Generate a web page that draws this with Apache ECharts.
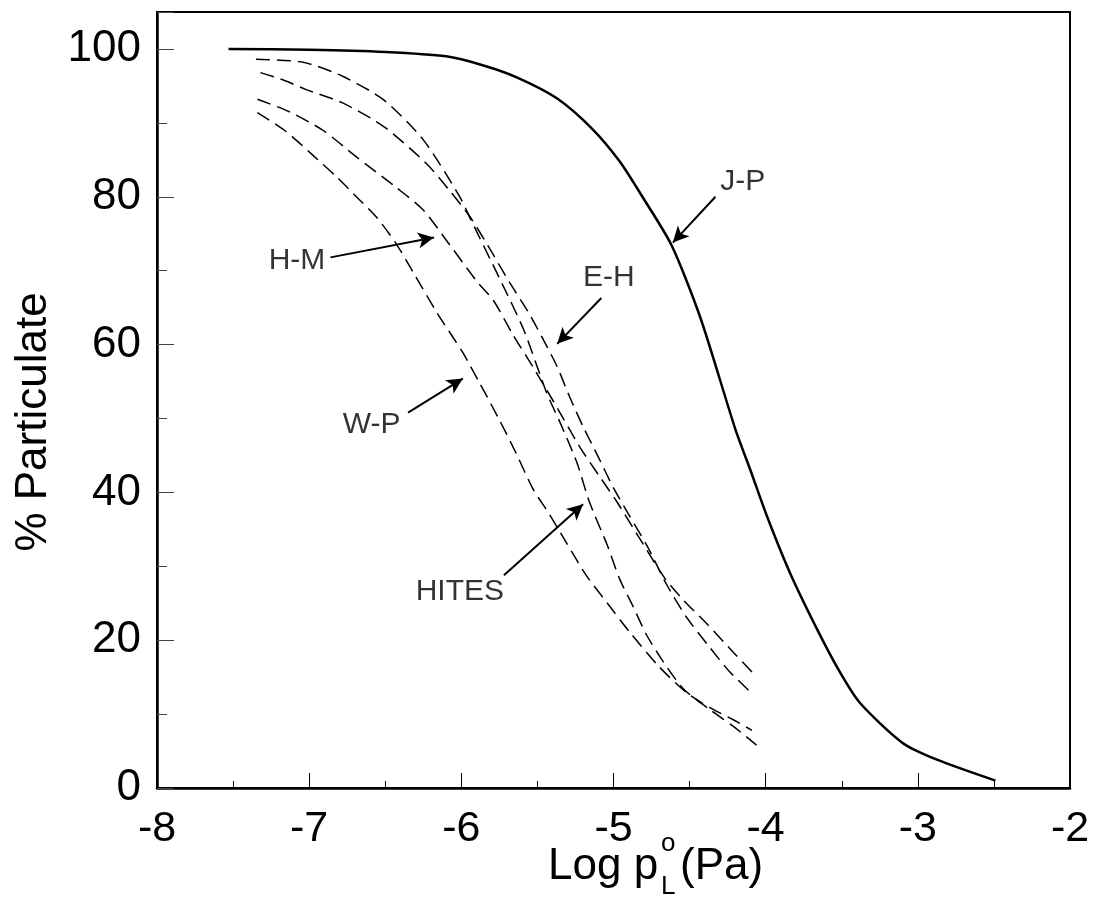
<!DOCTYPE html>
<html>
<head>
<meta charset="utf-8">
<script src="https://cdn.jsdelivr.net/npm/echarts@6/dist/echarts.min.js"></script>
<style>
  html, body { margin: 0; background: #fff; }
  #chart { width: 1095px; height: 909px; }
</style>
</head>
<body>
<div id="chart"></div>
<script>
// x = log p°L (Pa), y = % particulate
const jp = [[-7.53, 100], [-7.0, 99.9], [-6.5, 99.6], [-6.1, 99.0], [-5.86, 97.8], [-5.64, 96.2], [-5.37, 93.3],
  [-5.14, 89.2], [-4.96, 84.8], [-4.81, 80.0], [-4.62, 73.5], [-4.43, 63.7], [-4.2, 48.6], [-4.1, 43.0],
  [-3.99, 36.7], [-3.84, 29.1], [-3.66, 21.4], [-3.51, 15.6], [-3.38, 11.5], [-3.1, 6.1], [-2.87, 3.8], [-2.49, 1.0]];
const eh = [[-7.32, 96.8], [-7.17, 95.8], [-7.02, 94.5], [-6.78, 92.7], [-6.51, 89.5], [-6.23, 84.5], [-6.08, 80.9],
  [-5.94, 77.2], [-5.8, 72.5], [-5.68, 68.3], [-5.56, 64.4], [-5.47, 61.0], [-5.37, 57.0], [-5.29, 53.0],
  [-5.2, 48.9], [-5.1, 44.8], [-5.0, 40.6], [-4.9, 37.0], [-4.78, 32.8], [-4.65, 27.5], [-4.52, 23.1],
  [-4.37, 19.1], [-4.24, 15.8], [-4.09, 12.8]];
const hites = [[-7.35, 98.6], [-7.04, 98.2], [-6.78, 96.3], [-6.51, 93.1], [-6.25, 87.7], [-6.01, 80.0], [-5.94, 77.0],
  [-5.75, 69.0], [-5.59, 62.0], [-5.44, 53.5], [-5.35, 49.4], [-5.24, 44.0], [-5.16, 38.8], [-5.04, 32.8],
  [-4.96, 28.3], [-4.87, 24.5], [-4.78, 20.6], [-4.67, 17.0], [-4.54, 13.4], [-4.36, 10.5], [-4.21, 8.3], [-4.06, 5.8]];
const hm = [[-7.34, 93.2], [-7.13, 91.5], [-6.91, 89.0], [-6.69, 85.4], [-6.43, 81.3], [-6.25, 78.2], [-6.08, 73.6],
  [-5.9, 68.6], [-5.79, 66.0], [-5.66, 61.3], [-5.53, 57.0], [-5.4, 52.5], [-5.22, 46.1], [-5.09, 42.1],
  [-4.98, 38.8], [-4.85, 34.5], [-4.67, 28.6], [-4.54, 25.4], [-4.39, 22.3], [-4.21, 18.3], [-4.09, 15.7]];
const wp = [[-7.34, 91.4], [-7.15, 88.8], [-6.98, 85.7], [-6.82, 82.7], [-6.67, 79.6], [-6.56, 77.3], [-6.43, 73.7],
  [-6.3, 69.2], [-6.16, 64.3], [-5.99, 58.9], [-5.88, 54.8], [-5.75, 49.8], [-5.64, 45.3], [-5.53, 40.5],
  [-5.42, 37.0], [-5.31, 33.2], [-5.18, 28.8], [-5.04, 25.0], [-4.89, 21.0], [-4.7, 16.4], [-4.52, 12.9],
  [-4.36, 10.8], [-4.21, 9.2], [-4.09, 7.8]];

// curve labels, where they sit and where their arrows go (data units)
const labelNames = ["J-P", "E-H", "H-M", "W-P", "HITES"];
const labelAt = [[-4.15, 82.0], [-5.03, 69.0], [-7.08, 71.3], [-6.59, 49.2], [-6.01, 26.6]];
const arrowFrom = [[-4.33, 80.0], [-5.08, 66.3], [-6.86, 71.8], [-6.35, 50.8], [-5.72, 28.8]];
const arrowTo = [[-4.61, 73.8], [-5.37, 60.1], [-6.18, 74.5], [-5.99, 55.4], [-5.20, 38.4]];

const font = "'Liberation Sans', Arial, Helvetica, sans-serif";
const chart = echarts.init(document.getElementById("chart"), null, { renderer: "canvas" });

const dashed = (name, data) => ({
  name, type: "line", data, showSymbol: false, smooth: 0.25,
  lineStyle: { color: "#000", width: 1.5, type: [14, 7] }, z: 3, silent: true,
});

chart.setOption({
  animation: false,
  backgroundColor: "#fff",
  grid: { left: 157, right: 25, top: 12, bottom: 121, show: true, borderColor: "#000", borderWidth: 2, outerBoundsMode: "none" },
  xAxis: {
    type: "value", min: -8, max: -2, interval: 1,
    axisLine: { onZero: false, lineStyle: { color: "#000", width: 2.5 } },
    axisTick: { inside: true, length: 15, lineStyle: { color: "#000", width: 1 } },
    minorTick: { show: true, splitNumber: 2, length: 7, lineStyle: { color: "#000", width: 1 } },
    axisLabel: { color: "#000", fontSize: 43, fontFamily: font, margin: 20 },
    splitLine: { show: false },
  },
  yAxis: {
    type: "value", min: 0, max: 105, interval: 20,
    axisLine: { onZero: false, lineStyle: { color: "#000", width: 2.5 } },
    axisTick: { inside: true, length: 17, lineStyle: { color: "#444", width: 1 } },
    minorTick: { show: true, splitNumber: 2, length: 10, lineStyle: { color: "#444", width: 1 } },
    axisLabel: { color: "#000", fontSize: 44, fontFamily: font, margin: 16, showMaxLabel: false,
      formatter: v => (v % 20 === 0 ? String(v) : "") },
    splitLine: { show: false },
  },
  series: [
    {
      name: "J-P", type: "line", data: jp, showSymbol: false, smooth: 0.25,
      lineStyle: { color: "#000", width: 2.5 }, z: 4, silent: true,
    },
    dashed("E-H", eh),
    dashed("HITES", hites),
    dashed("H-M", hm),
    dashed("W-P", wp),
    {
      name: "labels", type: "scatter", symbolSize: 1, itemStyle: { color: "rgba(0,0,0,0)" }, silent: true, z: 5,
      data: labelNames.map((n, i) => ({ name: n, value: labelAt[i] })),
      label: { show: true, position: "inside", formatter: p => p.name, color: "#000", fontSize: 30, fontFamily: font,
        textBorderWidth: 0 },
      markLine: {
        silent: true, animation: false, symbol: ["none", "arrow"], symbolSize: [12, 16],
        lineStyle: { color: "#000", width: 2, type: "solid" }, label: { show: false },
        data: arrowFrom.map((f, i) => [{ coord: f }, { coord: arrowTo[i] }]),
      },
    },
  ],
  graphic: [
    {
      type: "text", x: 34, y: 422, rotation: Math.PI / 2,
      style: { text: "% Particulate", font: `44px ${font}`, fill: "#000", align: "center", verticalAlign: "middle" },
    },
    { type: "text", x: 548, y: 867, style: { text: "Log p", font: `44px ${font}`, fill: "#000", verticalAlign: "middle" } },
    { type: "text", x: 661, y: 844, style: { text: "o", font: `26px ${font}`, fill: "#000", verticalAlign: "middle" } },
    { type: "text", x: 661, y: 887, style: { text: "L", font: `26px ${font}`, fill: "#000", verticalAlign: "middle" } },
    { type: "text", x: 680, y: 867, style: { text: "(Pa)", font: `44px ${font}`, fill: "#000", verticalAlign: "middle" } },
  ],
});
</script>
</body>
</html>
